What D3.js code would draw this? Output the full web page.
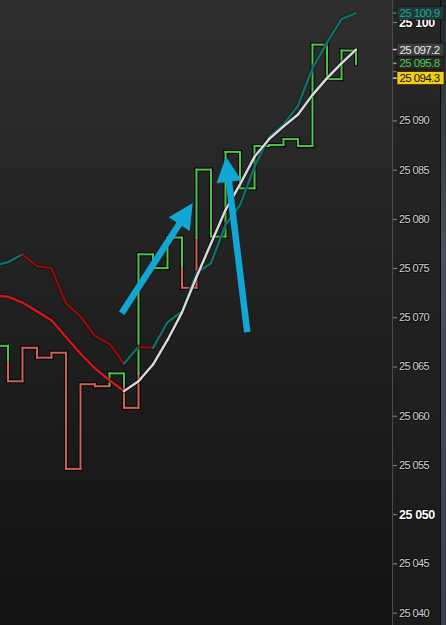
<!DOCTYPE html>
<html><head><meta charset="utf-8">
<script src="https://cdn.jsdelivr.net/npm/d3@7"></script>
<style>html,body{margin:0;padding:0;background:#1a1a1a;overflow:hidden}</style>
</head><body><svg id="c" width="446" height="625"></svg>
<script>
// ---- data ----
// closing prices of consecutive bars (first one lies just off the left edge)
const closes = [25065.4,25067.1,25063.5,25066.9,25065.9,25066.4,25054.6,25063.2,25063.0,25064.3,
                25060.8,25076.4,25075.0,25078.1,25073.0,25085.0,25078.2,25086.8,25083.1,25087.4,
                25087.5,25088.1,25087.4,25097.7,25094.2,25097.1];
const lastPrice = 25095.7;
// moving averages sampled at the right edge of each bar
const maUpper = [25075.2,25075.6,25076.4,25075.2,25075.0,25071.4,25070.1,25068.1,25067.3,25065.3,
                 25067.0,25066.9,25069.5,25070.6,25074.5,25075.5,25079.4,25081.4,25085.3,25088.3,
                 25089.6,25091.5,25095.3,25097.9,25100.3,25100.9];
const maLower = [25072.2,25072.1,25071.5,25070.6,25069.7,25068.0,25066.3,25064.8,25063.6,25062.5,
                 25063.5,25065.2,25067.7,25070.5,25074.1,25077.5,25080.9,25083.5,25086.3,25088.1,
                 25089.4,25090.6,25092.6,25094.3,25095.8,25097.2];
const yTicks = d3.range(25040, 25101, 5);
const tagValues = [25100.9, 25097.2, 25095.8, 25094.3];
const tagKinds  = ["teal", "white", "green", "yellow"];
// annotation arrows in (bar position, price)
const arrowTails = [[9.84, 25070.4], [18.5, 25068.5]];
const arrowTips  = [[14.74, 25081.6], [17.03, 25086.3]];

// ---- styles ----
const W = 446, H = 625, plotRight = 392;
const upCol = "#4cc24a", downCol = "#cf5f58";
const upperUp = "#10716c", upperDown = "#8c0f0f";
const lowerUp = "#dadada", lowerDown = "#d3161a";
const tagStyle = {
  teal:   {fill:"#1c3b39", text:"#2aa294", tick:"#1d8c80"},
  white:  {fill:"#3d3d3d", text:"#ececec", tick:"#d0d0d0"},
  green:  {fill:"#262626", text:"#52c852", tick:"#4cc24a"},
  yellow: {fill:"#f3cd14", text:"#111111", tick:"#cfcfcf"}
};

const svg = d3.select("#c");
const defs = svg.append("defs");
const g1 = defs.append("linearGradient").attr("id","bg").attr("x1",0).attr("y1",0).attr("x2",0).attr("y2",1);
g1.append("stop").attr("offset","0%").attr("stop-color","#2f2f2f");
g1.append("stop").attr("offset","50%").attr("stop-color","#202020");
g1.append("stop").attr("offset","100%").attr("stop-color","#131313");
const g2 = defs.append("linearGradient").attr("id","pbg").attr("x1",0).attr("y1",0).attr("x2",0).attr("y2",1);
g2.append("stop").attr("offset","0%").attr("stop-color","#272727");
g2.append("stop").attr("offset","100%").attr("stop-color","#1b1b1b");
const g3 = defs.append("linearGradient").attr("id","sbg").attr("x1",0).attr("y1",0).attr("x2",0).attr("y2",1);
g3.append("stop").attr("offset","0%").attr("stop-color","#23282e");
g3.append("stop").attr("offset","40%").attr("stop-color","#46525d");
g3.append("stop").attr("offset","100%").attr("stop-color","#34404e");
defs.append("clipPath").attr("id","clip").append("rect").attr("x",0).attr("y",0).attr("width",plotRight).attr("height",H);

svg.append("rect").attr("width",W).attr("height",H).attr("fill","url(#bg)");
svg.append("rect").attr("x",plotRight).attr("width",48).attr("height",H).attr("fill","url(#pbg)");
svg.append("rect").attr("x",441).attr("width",5).attr("height",H).attr("fill","url(#sbg)");
svg.append("line").attr("x1",440.5).attr("x2",440.5).attr("y1",0).attr("y2",H).attr("stroke","#0b0b0b").attr("stroke-width",1);
svg.append("line").attr("x1",plotRight+0.5).attr("x2",plotRight+0.5).attr("y1",0).attr("y2",H).attr("stroke","#4a4a4a");

// bar j spans [x(j), x(j+1)]
const x = d3.scaleLinear().domain([0, 28]).range([-21, 385]);
const y = d3.scaleLinear().domain([25040, 25100]).range([612.6, 22]);

const plot = svg.append("g").attr("clip-path","url(#clip)");

// ---- step line with Kagi-style colouring (turns colour when it breaks the previous shoulder / waist) ----
const segs = [];
{
  const pts = closes.concat([lastPrice]);
  let color = "up", lastPeak = pts[0], lastTrough = pts[0], prevDir = 0;
  segs.push({x1:x(0), x2:x(1), y1:pts[0], y2:pts[0], c:color});
  for (let k = 1; k < pts.length; k++) {
    const a = pts[k-1], b = pts[k], xv = x(k);
    const dir = Math.sign(b - a);
    if (dir !== 0) {
      if (prevDir !== 0 && dir !== prevDir) { if (prevDir > 0) lastPeak = a; else lastTrough = a; }
      if (dir > 0 && color === "down" && b > lastPeak) {
        const s = Math.max(a, lastPeak);
        if (s > a) segs.push({x1:xv, x2:xv, y1:a, y2:s, c:"down"});
        segs.push({x1:xv, x2:xv, y1:s, y2:b, c:"up"}); color = "up";
      } else if (dir < 0 && color === "up" && b < lastTrough) {
        const s = Math.min(a, lastTrough);
        if (s < a) segs.push({x1:xv, x2:xv, y1:a, y2:s, c:"up"});
        segs.push({x1:xv, x2:xv, y1:s, y2:b, c:"down"}); color = "down";
      } else {
        segs.push({x1:xv, x2:xv, y1:a, y2:b, c:color});
      }
      prevDir = dir;
    }
    if (k < closes.length) segs.push({x1:xv, x2:x(k+1), y1:b, y2:b, c:color});
  }
}
const segD = s => `M${s.x1},${y(s.y1)}L${s.x2},${y(s.y2)}`;
plot.append("g").selectAll("path").data(segs).join("path")
  .attr("d", segD).attr("fill","none").attr("stroke","#000").attr("stroke-opacity",0.75)
  .attr("stroke-width",4.2).attr("stroke-linecap","square");
plot.append("g").selectAll("path").data(segs).join("path")
  .attr("d", segD).attr("fill","none")
  .attr("stroke", s => s.c === "up" ? upCol : downCol)
  .attr("stroke-width",2).attr("stroke-linecap","square");

// ---- moving averages, coloured by slope ----
function drawMA(vals, cu, cd) {
  const idx = d3.range(vals.length - 1);
  const line = d3.line().x(d => x(d[0] + 1)).y(d => y(d[1]));
  const seg = k => line([[k, vals[k]], [k+1, vals[k+1]]]);
  plot.append("g").selectAll("path").data(idx).join("path")
    .attr("d", seg).attr("fill","none").attr("stroke","#000").attr("stroke-opacity",0.35)
    .attr("stroke-width",4.2).attr("stroke-linecap","round");
  plot.append("g").selectAll("path").data(idx).join("path")
    .attr("d", seg).attr("fill","none")
    .attr("stroke", k => vals[k+1] > vals[k] ? cu : cd)
    .attr("stroke-width",2.4).attr("stroke-linecap","round");
}
drawMA(maUpper, upperUp, upperDown);
drawMA(maLower, lowerUp, lowerDown);

// ---- arrows ----
const arrowG = plot.append("g");
arrowTails.forEach((t, k) => {
  const p0 = [x(t[0]), y(t[1])], p1 = [x(arrowTips[k][0]), y(arrowTips[k][1])];
  const dx = p1[0]-p0[0], dy = p1[1]-p0[1], L = Math.hypot(dx, dy);
  const ux = dx/L, uy = dy/L, nx = -uy, ny = ux;
  const hl = 25, hw = 12.5;
  const b = [p1[0]-ux*hl, p1[1]-uy*hl];
  arrowG.append("line").attr("x1",p0[0]).attr("y1",p0[1]).attr("x2",b[0]+ux*2).attr("y2",b[1]+uy*2)
    .attr("stroke","#12a6d5").attr("stroke-width",6.5);
  arrowG.append("path")
    .attr("d", `M${p1[0]},${p1[1]}L${b[0]+nx*hw},${b[1]+ny*hw}L${b[0]-nx*hw},${b[1]-ny*hw}Z`)
    .attr("fill","#12a6d5");
});

// ---- axis ----
const fmtLocale = d3.formatLocale({decimal:".", thousands:" ", grouping:[3], currency:["",""]});
const fTick = fmtLocale.format(",.0f"), fTag = fmtLocale.format(",.1f");
const ax = svg.append("g");
yTicks.forEach(v => {
  const bold = v % 50 === 0;
  ax.append("line").attr("x1",plotRight+1).attr("x2",plotRight+5).attr("y1",y(v)+0.5).attr("y2",y(v)+0.5)
    .attr("stroke","#8a8a8a");
  // labels fully covered by the price tags are not drawn
  const hidden = !bold && tagValues.some(t => Math.abs(y(t) - y(v)) < 10);
  if (hidden) return;
  ax.append("text").attr("x",399).attr("y",y(v)).attr("dy","0.36em")
    .attr("font-family","'Liberation Sans', Arial, sans-serif")
    .attr("font-size", bold ? 12.5 : 11).attr("font-weight", bold ? "bold" : "normal")
    .attr("letter-spacing", bold ? -0.4 : -0.6)
    .attr("fill", bold ? "#ffffff" : "#d4d4d4")
    .attr("stroke","#000").attr("stroke-width",2).attr("stroke-opacity",0.6).attr("paint-order","stroke")
    .text(fTick(v));
});

// ---- price tags ----
tagValues.forEach((v, k) => {
  const s = tagStyle[tagKinds[k]], cy = y(v);
  ax.append("line").attr("x1",plotRight+1).attr("x2",plotRight+5).attr("y1",cy).attr("y2",cy)
    .attr("stroke",s.tick).attr("stroke-width",1.5);
  ax.append("rect").attr("x",397).attr("y",cy-6.5).attr("width",47).attr("height",13)
    .attr("fill",s.fill).attr("stroke","#111").attr("stroke-width",0.6);
  ax.append("text").attr("x",399.5).attr("y",cy).attr("dy","0.36em")
    .attr("font-family","'Liberation Sans', Arial, sans-serif").attr("font-size",11.5)
    .attr("letter-spacing",-0.6).attr("fill",s.text).text(fTag(v));
});
</script></body></html>
